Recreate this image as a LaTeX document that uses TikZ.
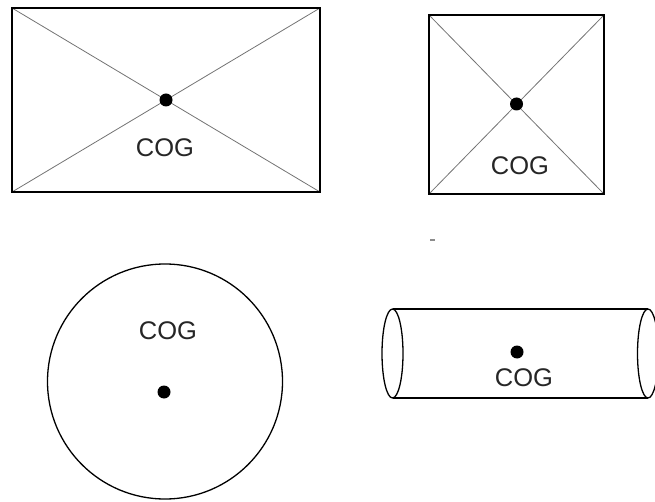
\documentclass[tikz,border=0pt]{standalone}
\usepackage{fontspec}
\setmainfont{Liberation Sans}
\begin{document}
\begin{tikzpicture}[x=1pt,y=-1pt,
  outline/.style={draw=black,line width=1.3pt},
  diag/.style={draw=black!55,line width=0.8pt},
  cogdot/.style={fill=black},
  cogtext/.style={font=\fontsize{25.5}{25.5}\selectfont,inner sep=0pt,text=black!85}]
\useasboundingbox (0,0) rectangle (655,502);
% rectangle
\coordinate (r1) at (12,8); \coordinate (r2) at (320,8);
\coordinate (r3) at (320,192); \coordinate (r4) at (12,192);
\draw[diag] (r1) -- (r3); \draw[diag] (r2) -- (r4);
\draw[outline] (r1) rectangle (r3);
\fill[cogdot] (166,100) circle (6.5);
\node[cogtext] (t1) at (165,148) {COG};
% square
\coordinate (s1) at (429,15); \coordinate (s2) at (604,15);
\coordinate (s3) at (604,194); \coordinate (s4) at (429,194);
\draw[diag] (s1) -- (s3); \draw[diag] (s2) -- (s4);
\draw[outline] (s1) rectangle (s3);
\fill[cogdot] (516.5,104) circle (6.5);
\node[cogtext] (t2) at (520,166) {COG};
% stray mark
\draw[black!45,line width=1.5pt] (430,240) -- (435,240);
% circle
\draw[outline] (165,381.5) circle (117.5);
\fill[cogdot] (164,392) circle (6.5);
\node[cogtext] (t3) at (168,331) {COG};
% cylinder
\coordinate (c1) at (392.5,309); \coordinate (c2) at (648,309);
\coordinate (c3) at (648,398); \coordinate (c4) at (392.5,398);
\draw[outline] (c1) -- (c2); \draw[outline] (c4) -- (c3);
\draw[outline] (392.5,353.5) ellipse (10.5 and 44.5);
\draw[outline] (648,353.5) ellipse (10.5 and 44.5);
\fill[cogdot] (517,352) circle (6.5);
\node[cogtext] (t4) at (524,378) {COG};
\end{tikzpicture}
\end{document}
